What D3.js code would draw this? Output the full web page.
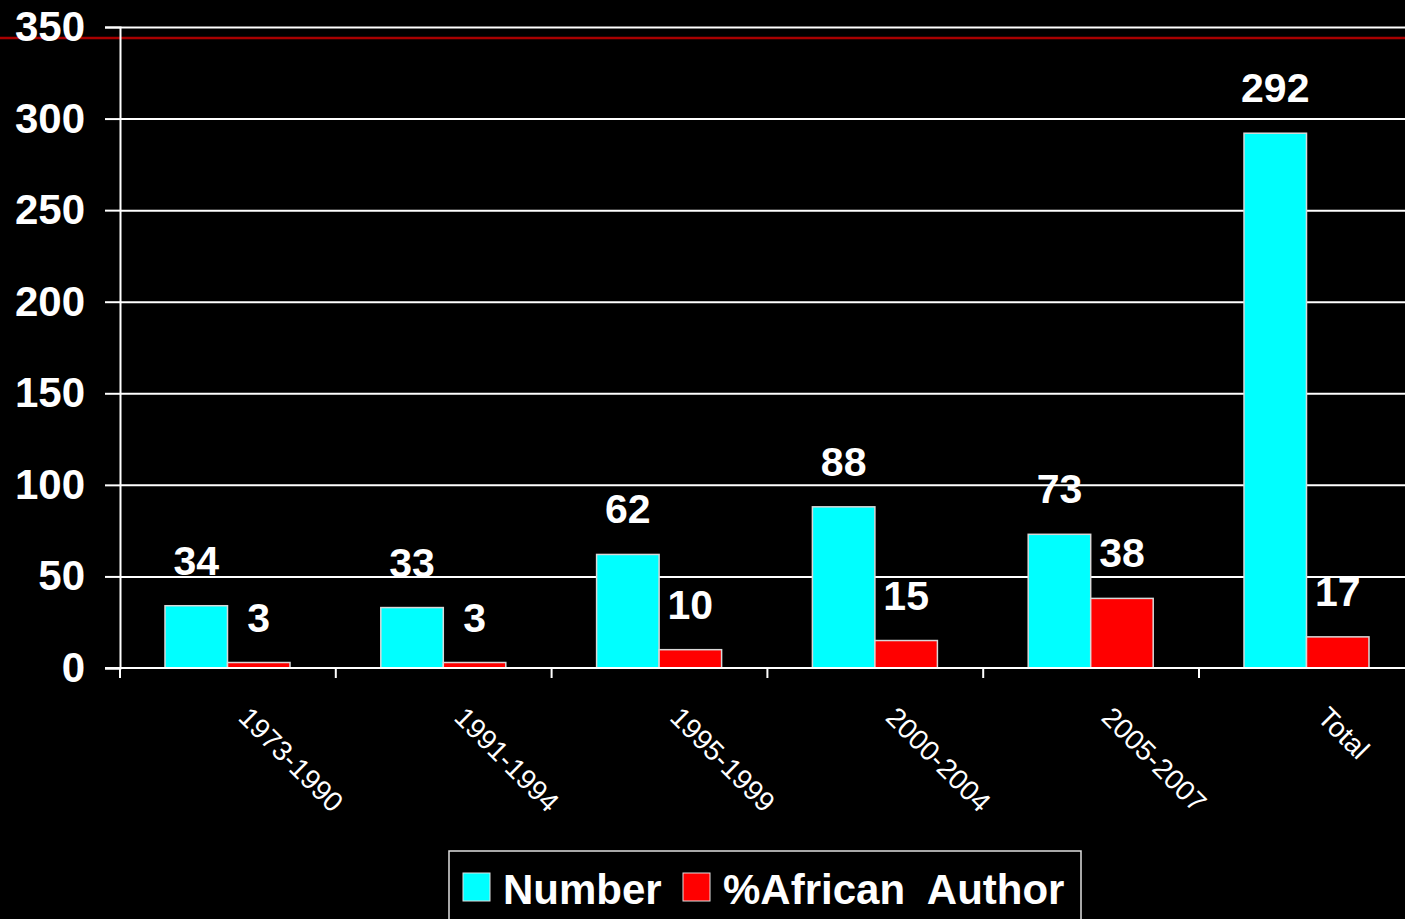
<!DOCTYPE html>
<html>
<head>
<meta charset="utf-8">
<script src="https://cdn.jsdelivr.net/npm/d3@7"></script>
<style>
  html, body { margin: 0; padding: 0; background: #000; overflow: hidden; }
  svg { display: block; font-family: "Liberation Sans", Arial, sans-serif; }
</style>
</head>
<body>
<script>
// data
var categories = ["1973-1990", "1991-1994", "1995-1999", "2000-2004", "2005-2007", "Total"];
var numberValues = [34, 33, 62, 88, 73, 292];
var africanValues = [3, 3, 10, 15, 38, 17];
var seriesNames = ["Number", "%African  Author"];
var yTicks = [0, 50, 100, 150, 200, 250, 300, 350];
var colors = ["#00ffff", "#ff0000"];

var W = 1405, H = 919;
var margin = {top: 27, left: 120};
var plotW = 215.8 * 6, plotBottom = 668;

var svg = d3.select("body").append("svg")
  .attr("width", W)
  .attr("height", H);

svg.append("rect").attr("width", W).attr("height", H).attr("fill", "#000");

var x = d3.scaleBand().domain(categories).range([margin.left, margin.left + plotW]);
var x1 = d3.scaleBand().domain(seriesNames).range([45, 170]);
var y = d3.scaleLinear().domain([0, 350]).range([plotBottom, margin.top]);

// gridlines
svg.append("g")
  .attr("transform", "translate(" + margin.left + ",0)")
  .call(d3.axisLeft(y).tickValues(yTicks.slice(1)).tickSize(-plotW).tickFormat(""))
  .call(function(g) { g.select(".domain").remove(); })
  .selectAll("line").attr("stroke", "#fff").attr("stroke-width", 2);

// dark red line near the top
svg.append("line")
  .attr("x1", 0).attr("x2", W)
  .attr("y1", 38).attr("y2", 38)
  .attr("stroke", "#a80000").attr("stroke-width", 2.5);

// bars
var rows = categories.map(function(c, i) {
  return {cat: c, vals: [numberValues[i], africanValues[i]]};
});

var groups = svg.selectAll(".grp").data(rows).enter().append("g")
  .attr("class", "grp")
  .attr("transform", function(d) { return "translate(" + x(d.cat) + ",0)"; });

groups.selectAll("rect").data(function(d) {
    return d.vals.map(function(v, j) { return {s: seriesNames[j], v: v, j: j}; });
  })
  .enter().append("rect")
  .attr("x", function(d) { return x1(d.s); })
  .attr("width", x1.bandwidth())
  .attr("y", function(d) { return y(d.v); })
  .attr("height", function(d) { return plotBottom - y(d.v); })
  .attr("fill", function(d) { return colors[d.j]; })
  .attr("stroke", "#d8d8d8").attr("stroke-width", 1.5);

groups.selectAll("text.val").data(function(d) {
    return d.vals.map(function(v, j) { return {s: seriesNames[j], v: v}; });
  })
  .enter().append("text")
  .attr("class", "val")
  .attr("x", function(d) { return x1(d.s) + x1.bandwidth() / 2; })
  .attr("y", function(d) { return y(d.v) - 31; })
  .attr("text-anchor", "middle")
  .attr("fill", "#fff")
  .style("font-size", "41px").style("font-weight", "bold")
  .text(function(d) { return d.v; });

// y axis
var yAxis = svg.append("g")
  .attr("transform", "translate(" + margin.left + ",0)")
  .call(d3.axisLeft(y).tickValues(yTicks).tickSize(15).tickPadding(20));
yAxis.select(".domain").attr("stroke", "#fff").attr("stroke-width", 2);
yAxis.selectAll("line").attr("stroke", "#fff").attr("stroke-width", 2);
yAxis.selectAll("text")
  .attr("fill", "#fff")
  .style("font-size", "42px").style("font-weight", "bold")
  .style("font-family", "'Liberation Sans', Arial, sans-serif");

// x axis
svg.append("line")
  .attr("x1", margin.left - 15).attr("x2", margin.left + plotW)
  .attr("y1", plotBottom).attr("y2", plotBottom)
  .attr("stroke", "#fff").attr("stroke-width", 2);

svg.selectAll(".xtick").data(categories).enter().append("line")
  .attr("x1", function(d) { return x(d); }).attr("x2", function(d) { return x(d); })
  .attr("y1", plotBottom).attr("y2", plotBottom + 10)
  .attr("stroke", "#fff").attr("stroke-width", 2);

svg.selectAll(".xlab").data(categories).enter().append("text")
  .attr("transform", function(d) {
    return "translate(" + (x(d) + x.bandwidth() / 2 + 9) + "," + (plotBottom + 51) + ") rotate(45)";
  })
  .attr("fill", "#fff")
  .style("font-size", "28px")
  .text(function(d) { return d; });

// legend
var legend = svg.append("g").attr("transform", "translate(449,851)");
legend.append("rect")
  .attr("width", 632).attr("height", 100)
  .attr("fill", "#000").attr("stroke", "#e0e0e0").attr("stroke-width", 1.5);

var legX = [14, 234];
seriesNames.forEach(function(s, i) {
  legend.append("rect")
    .attr("x", legX[i]).attr("y", 22)
    .attr("width", 27).attr("height", 28)
    .attr("fill", colors[i]).attr("stroke", "#e0e0e0").attr("stroke-width", 1);
  legend.append("text")
    .attr("x", legX[i] + 40).attr("y", 53)
    .attr("fill", "#fff")
    .style("font-size", "42px").style("font-weight", "bold")
    .style("white-space", "pre")
    .attr("xml:space", "preserve")
    .text(s);
});
</script>
</body>
</html>
